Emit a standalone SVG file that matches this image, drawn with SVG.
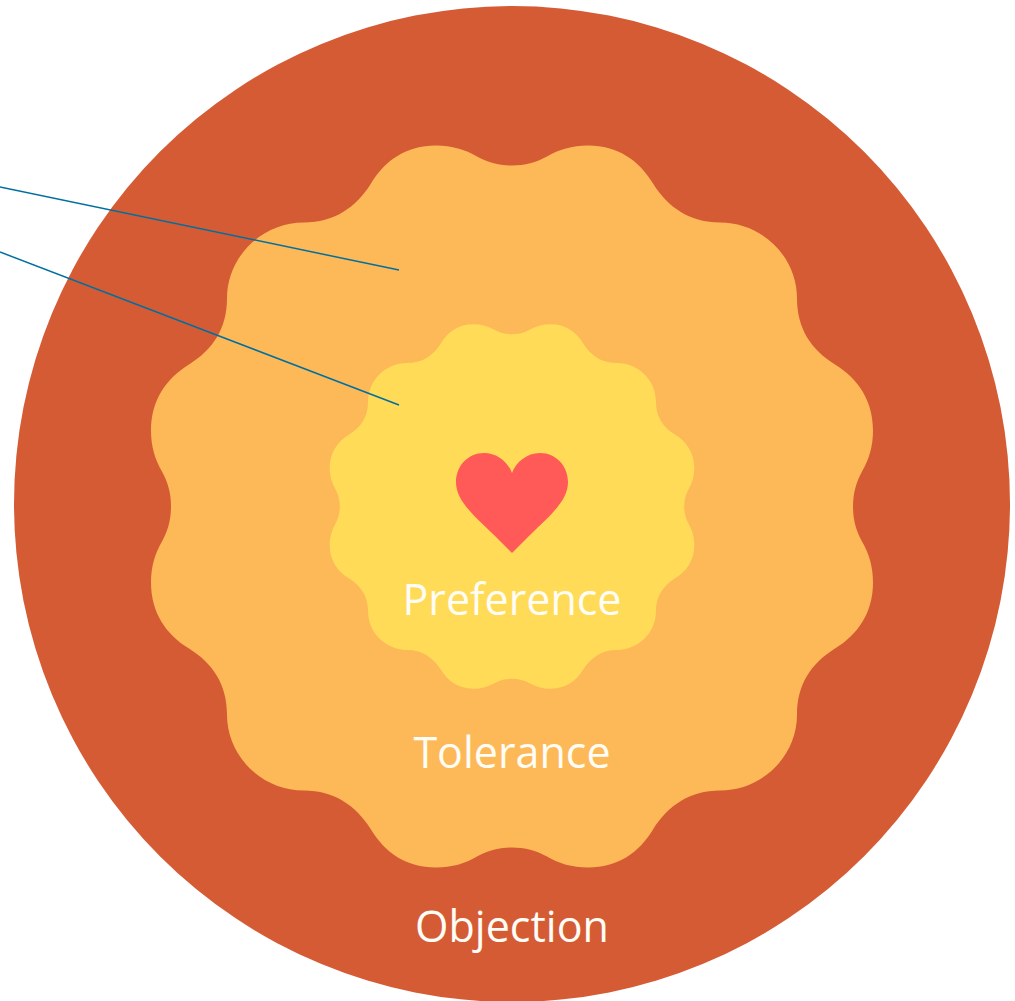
<svg xmlns="http://www.w3.org/2000/svg" width="1015" height="1001" viewBox="0 0 1015 1001">
<style>
.lbl{font-family:"Open Sans","Liberation Sans",sans-serif;font-size:43px;fill:#fffdf5;text-anchor:middle}
.conn{fill:none;stroke:#006f9f;stroke-width:1.5}
</style>
<defs>
<path id="blob" d="M0,-341 C13,-341 24,-344 35,-350 C47,-357 60,-361 76,-361 C106,-361 127,-346 141,-323 C156,-299 178,-284 208,-284 C250,-284 285,-250 285,-208 C285,-178 299,-157 323,-142 C346,-128 361,-106 361,-76 C361,-60 357,-47 350,-35 C344,-24 341,-13 341,0 C341,13 344,24 350,35 C357,47 361,60 361,76 C361,106 346,128 323,142 C299,157 285,178 285,208 C285,250 250,284 208,284 C178,284 156,299 141,323 C127,346 106,361 76,361 C60,361 47,357 35,350 C24,344 13,341 0,341 C-13,341 -24,344 -35,350 C-47,357 -60,361 -76,361 C-106,361 -127,346 -141,323 C-156,299 -178,284 -208,284 C-250,284 -285,250 -285,208 C-285,178 -299,157 -323,142 C-346,128 -361,106 -361,76 C-361,60 -357,47 -350,35 C-344,24 -341,13 -341,0 C-341,-13 -344,-24 -350,-35 C-357,-47 -361,-60 -361,-76 C-361,-106 -346,-128 -323,-142 C-299,-157 -285,-178 -285,-208 C-285,-250 -250,-284 -208,-284 C-178,-284 -156,-299 -141,-323 C-127,-346 -106,-361 -76,-361 C-60,-361 -47,-357 -35,-350 C-24,-344 -13,-341 0,-341 Z"/>
</defs>
<rect width="1015" height="1001" fill="#ffffff"/>
<g id="objection">
<circle cx="512" cy="504" r="498" fill="#d55b35"/>
<text class="lbl" x="512" y="942">Objection</text>
</g>
<g id="tolerance">
<use href="#blob" transform="translate(512,506.5)" fill="#fdb958"/>
<text class="lbl" x="512" y="768">Tolerance</text>
</g>
<g id="preference">
<use href="#blob" transform="translate(512,506.5) scale(0.505)" fill="#ffdb58"/>
<path id="heart" d="M512,473 C516,462 527,453 540,453 C556,453 568,466 568,482 C568,500 552,514 530,535 L512,553 L494,535 C472,514 456,500 456,482 C456,466 468,453 484,453 C497,453 508,462 512,473 Z" fill="#ff5a58"/>
<text class="lbl" x="512" y="615">Preference</text>
</g>
<g id="connectors">
<line class="conn" x1="0" y1="187" x2="399" y2="270"/>
<line class="conn" x1="0" y1="252" x2="399" y2="405"/>
</g>
</svg>
